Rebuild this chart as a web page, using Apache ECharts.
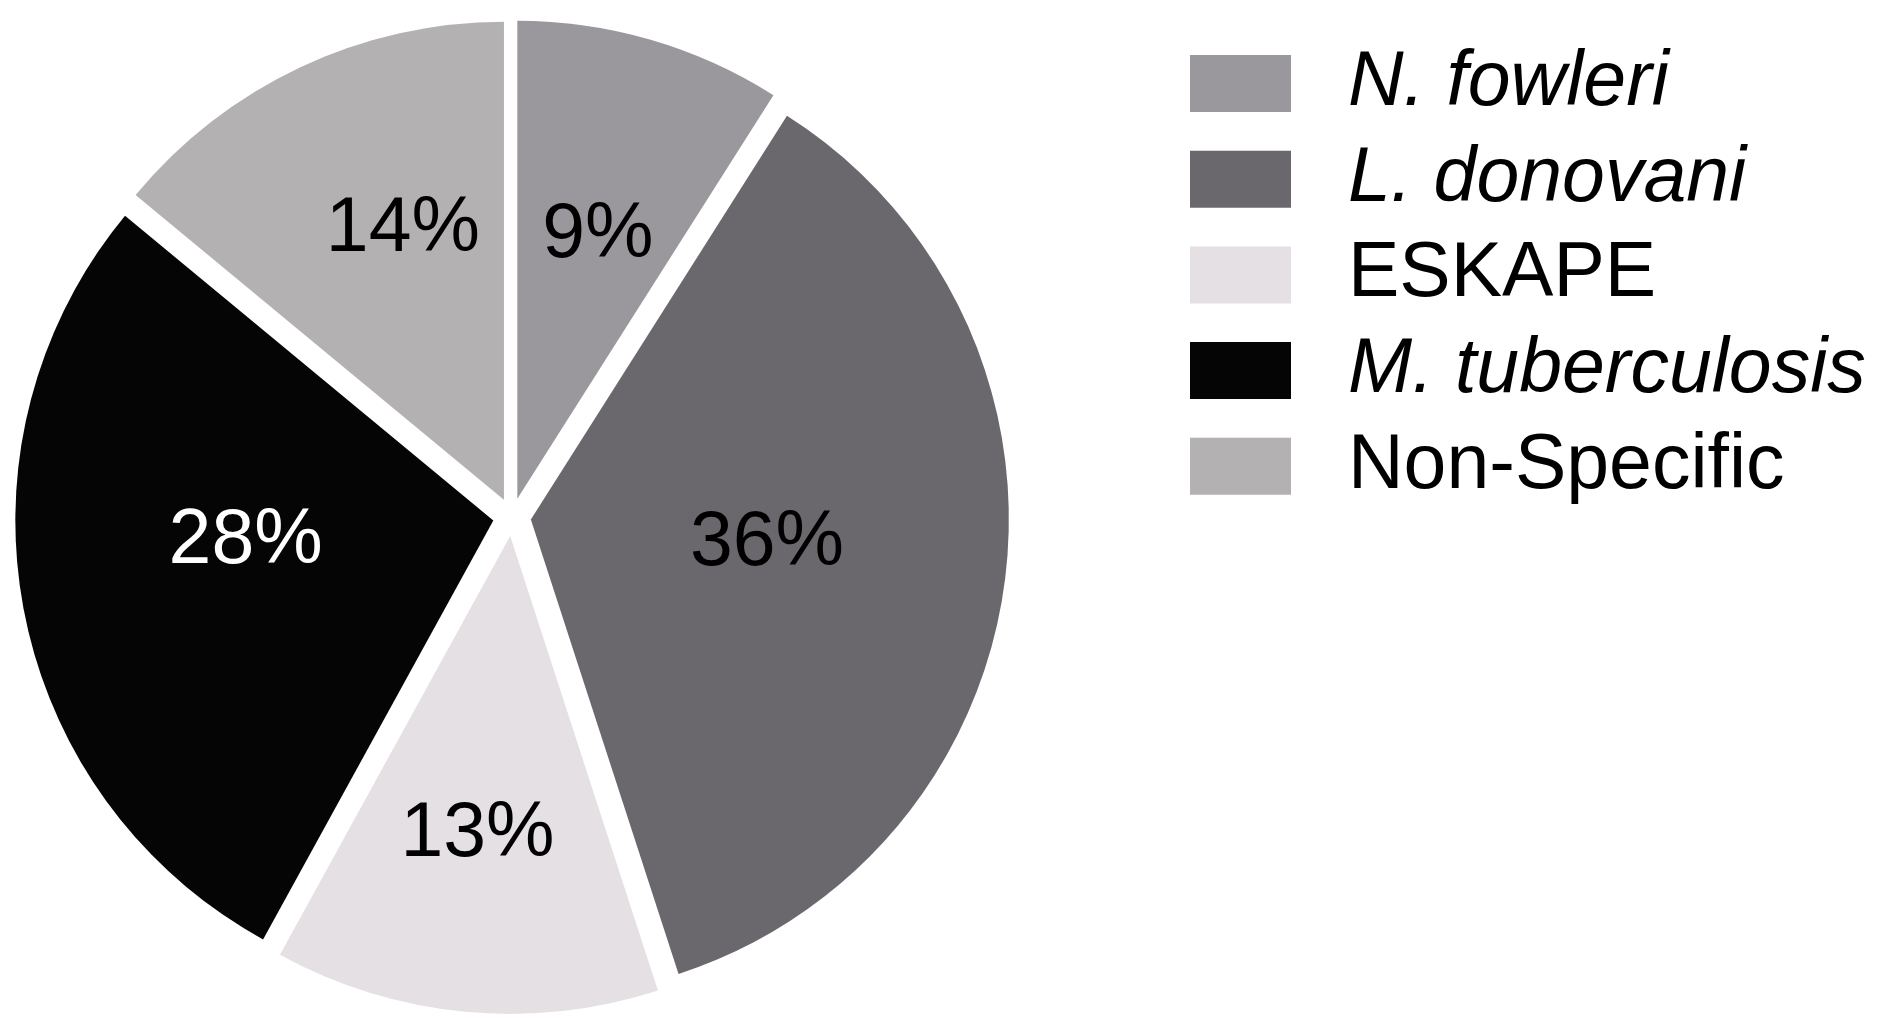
<!DOCTYPE html>
<html>
<head>
<meta charset="utf-8">
<script src="https://cdn.jsdelivr.net/npm/echarts@6/dist/echarts.min.js"></script>
<style>
html,body{margin:0;padding:0;background:#fff;}
#chart{width:1888px;height:1034px;}
</style>
</head>
<body>
<div id="chart"></div>
<script>
const categories = ['N. fowleri', 'L. donovani', 'ESKAPE', 'M. tuberculosis', 'Non-Specific'];
const values = [9, 36, 13, 28, 14];
const colors = ['#9a989c', '#6a686d', '#e4e0e4', '#050505', '#b4b1b3'];
const labelColors = ['#000', '#000', '#000', '#fff', '#000'];
const italicNames = [true, true, false, true, false];
const labelOffsets = [[13, -31], [-4, -6], [-10, 58], [-10, -24], [2, -51]];

const chart = echarts.init(document.getElementById('chart'), null, {renderer: 'canvas'});
const fontFamily = '"Liberation Sans", Arial, Helvetica, sans-serif';

chart.setOption({
  animation: false,
  backgroundColor: '#fff',
  legend: {
    orient: 'vertical',
    left: 1185,
    top: 40,
    icon: 'rect',
    itemWidth: 101,
    itemHeight: 57,
    itemGap: 18.7,
    selectedMode: false,
    itemStyle: {borderWidth: 0},
    textStyle: {
      fontFamily: fontFamily,
      fontSize: 77,
      color: '#000',
      padding: [0, 0, 0, 52]
    },
    data: categories.map((c, i) => ({
      name: c,
      textStyle: {fontStyle: italicNames[i] ? 'italic' : 'normal'}
    }))
  },
  series: [{
    type: 'pie',
    center: [512, 517],
    radius: 478,
    startAngle: 90,
    clockwise: true,
    avoidLabelOverlap: false,
    selectedMode: 'multiple',
    selectedOffset: 19,
    itemStyle: {borderWidth: 0},
    label: {
      position: 'inside',
      fontFamily: fontFamily,
      fontSize: 77,
      formatter: p => p.value + '%'
    },
    labelLine: {show: false},
    emphasis: {disabled: true},
    data: categories.map((c, i) => ({
      name: c,
      value: values[i],
      selected: true,
      itemStyle: {color: colors[i]},
      label: {color: labelColors[i], offset: labelOffsets[i]},
      select: {
        itemStyle: {color: colors[i], borderWidth: 0},
        label: {color: labelColors[i], offset: labelOffsets[i]}
      }
    }))
  }]
});
</script>
</body>
</html>
